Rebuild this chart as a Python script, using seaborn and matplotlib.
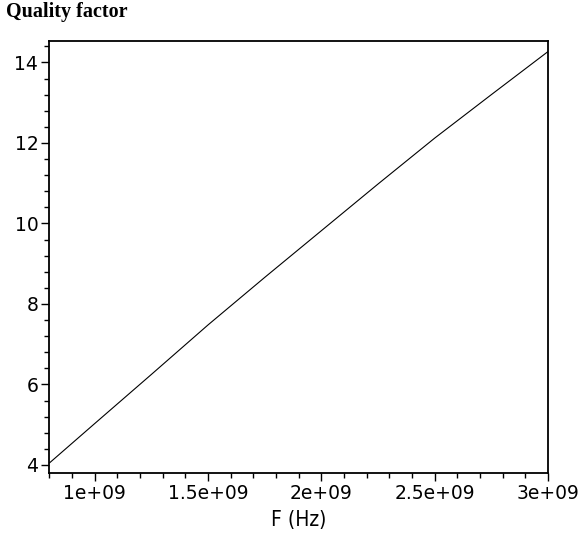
import numpy as np
import pandas as pd
import matplotlib
matplotlib.use("Agg")
import matplotlib.pyplot as plt
import seaborn as sns
from matplotlib.ticker import FixedLocator, MultipleLocator

# values
freq_hz = [0.8e9, 1.0e9, 1.25e9, 1.5e9, 1.75e9, 2.0e9, 2.25e9, 2.5e9, 2.75e9, 3.0e9]
quality = [4.05, 5.03, 6.25, 7.48, 8.66, 9.82, 10.98, 12.12, 13.2, 14.27]

x_ticks = [1e9, 1.5e9, 2e9, 2.5e9, 3e9]
x_labels = ["1e+09", "1.5e+09", "2e+09", "2.5e+09", "3e+09"]
y_ticks = [4, 6, 8, 10, 12, 14]

df = pd.DataFrame({"F": freq_hz, "Q": quality})

sns.set_style("ticks")
plt.rcParams["font.family"] = ["DejaVu Sans"]
plt.rcParams["text.color"] = "black"

fig = plt.figure(figsize=(5.82, 5.41), dpi=100)
ax = fig.add_axes([0.085, 0.1257, 0.8566, 0.7976])

sns.lineplot(data=df, x="F", y="Q", color="black", linewidth=0.8, ax=ax)

ax.set_xlim(0.8e9, 3e9)
ax.set_ylim(3.8, 14.52)

ax.xaxis.set_major_locator(FixedLocator(x_ticks))
ax.set_xticklabels(x_labels)
ax.xaxis.set_minor_locator(MultipleLocator(0.1e9))
ax.yaxis.set_major_locator(FixedLocator(y_ticks))
ax.set_yticklabels([str(v) for v in y_ticks])
ax.yaxis.set_minor_locator(MultipleLocator(0.4))

ax.tick_params(axis="both", which="major", length=6, width=1.0, labelsize=13.5,
               direction="out", pad=2, colors="black")
ax.tick_params(axis="both", which="minor", length=3.5, width=1.0, direction="out", colors="black")
for s in ax.spines.values():
    s.set_visible(True)
    s.set_linewidth(1.3)
    s.set_color("black")

ax.set_xlabel("F (Hz)", fontsize=15, fontstretch="condensed", labelpad=5, color="black")
ax.set_ylabel("")

fig.text(0.011, 0.977, "Quality factor", fontsize=14.5, fontweight="bold",
         family="Liberation Serif", color="black", va="center", ha="left")

fig.savefig("out.png", dpi=100)
